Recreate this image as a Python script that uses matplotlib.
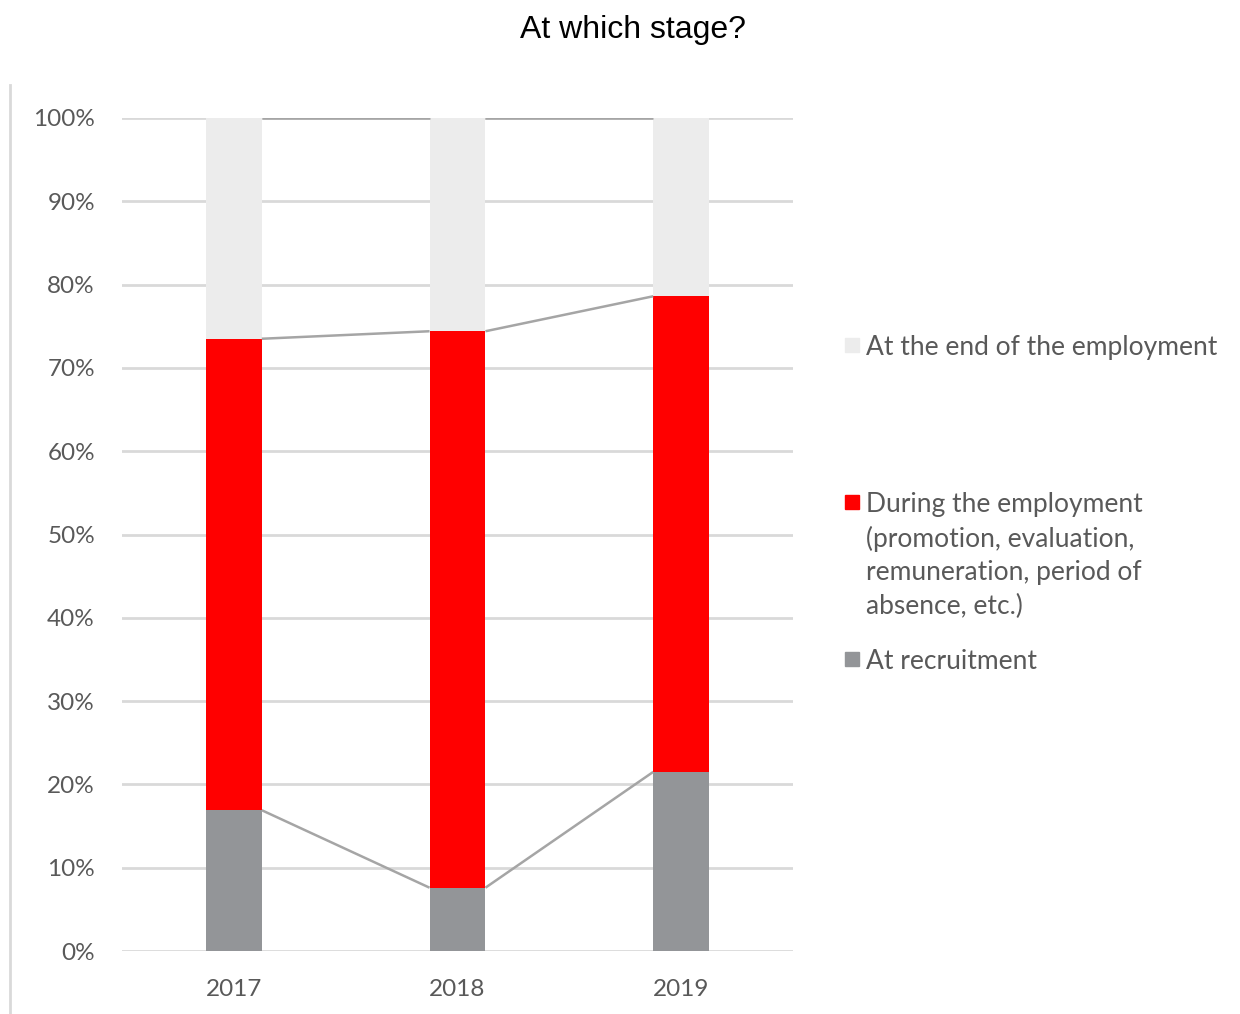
import matplotlib
matplotlib.use("Agg")
import matplotlib.pyplot as plt
from matplotlib.patches import Rectangle
from matplotlib.lines import Line2D
import numpy as np

years = ["2017", "2018", "2019"]
at_recruitment = [16.9, 7.6, 21.5]
during_employment = [56.6, 66.8, 57.1]
end_of_employment = [26.5, 25.6, 21.4]

series_labels = [
    "At the end of the employment",
    "During the employment\n(promotion, evaluation,\nremuneration, period of\nabsence, etc.)",
    "At recruitment",
]
colors = {"rec": "#939598", "during": "#ff0000", "end": "#ececec"}

W, H = 1240, 1014
fig = plt.figure(figsize=(W / 100, H / 100), dpi=100)
ax = fig.add_axes([122 / W, 1 - 951 / H, (793 - 122) / W, (951 - 118) / H])

x = np.arange(len(years))
bw = 0.25
rec = np.array(at_recruitment)
dur = np.array(during_employment)
end = np.array(end_of_employment)

ax.bar(x, rec, bw, color=colors["rec"], zorder=3)
ax.bar(x, dur, bw, bottom=rec, color=colors["during"], zorder=3)
ax.bar(x, end, bw, bottom=rec + dur, color=colors["end"], zorder=3)

# series lines joining segment tops between adjacent bars
for tops in (rec, rec + dur, rec + dur + end):
    for i in range(len(x) - 1):
        ax.plot([x[i] + bw / 2, x[i + 1] - bw / 2], [tops[i], tops[i + 1]],
                color="#a5a5a5", lw=1.8, zorder=4, solid_capstyle="butt")

ax.set_xlim(-0.5, 2.5)
ax.set_ylim(0, 100)
ax.set_yticks(np.arange(0, 101, 10))
ax.set_yticklabels([f"{v}%" for v in range(0, 101, 10)])
ax.set_xticks(x)
ax.set_xticklabels(years)
ax.grid(axis="y", color="#d9d9d9", lw=2, zorder=0)
ax.set_axisbelow(True)
for s in ax.spines.values():
    s.set_visible(False)
ax.tick_params(axis="both", length=0, labelsize=17.5, labelcolor="#595959")
ax.tick_params(axis="y", pad=19.5)
ax.tick_params(axis="x", pad=20)
for lab in ax.get_xticklabels() + ax.get_yticklabels():
    lab.set_fontfamily("Lato")

# chart border on the left
fig.add_artist(Line2D([10 / W, 10 / W], [0, 1 - 85 / H], color="#d9d9d9", lw=2))

fig.text(633 / W, 1 - 30 / H, "At which stage?", ha="center", va="center",
         fontsize=23, family="Liberation Sans", color="#000000")

# legend
legend_items = [
    (series_labels[0], colors["end"], 345),
    (series_labels[1], colors["during"], 502),
    (series_labels[2], colors["rec"], 659),
]
sq = 14
for label, col, yc in legend_items:
    fig.add_artist(Rectangle((845 / W, 1 - (yc + sq / 2) / H), sq / W, sq / H,
                             color=col, transform=fig.transFigure))
    fig.text(866 / W, 1 - (yc - 10) / H, label, ha="left", va="top",
             fontsize=19, family="Lato", color="#595959", linespacing=1.42)

fig.savefig("out.png", dpi=100)
